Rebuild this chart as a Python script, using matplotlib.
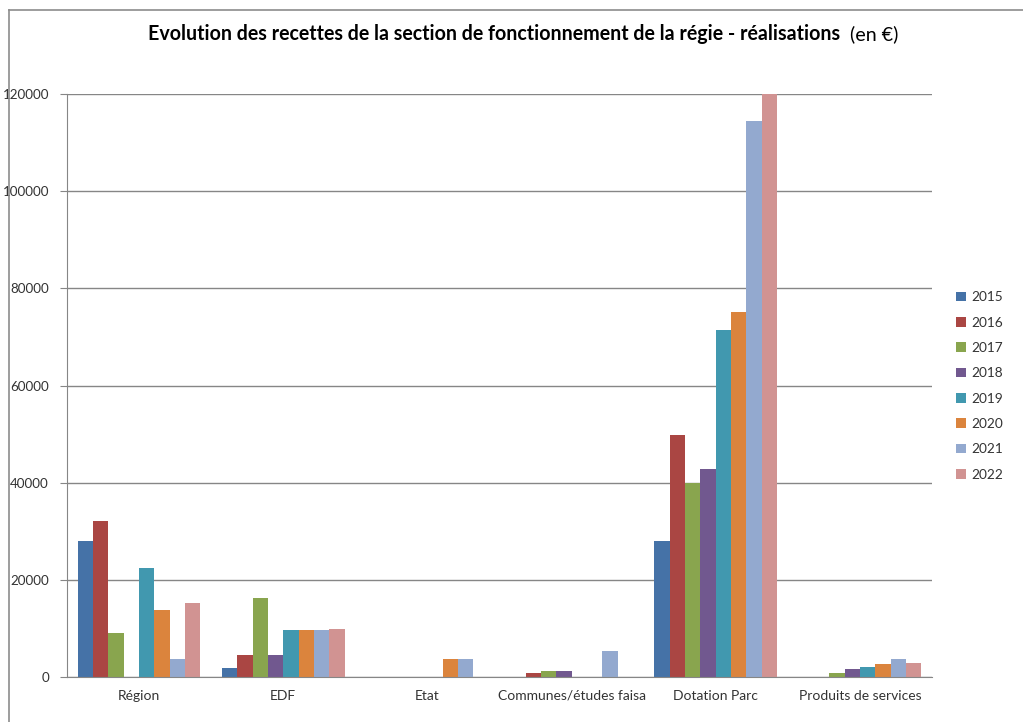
import matplotlib
matplotlib.use("Agg")
import matplotlib.pyplot as plt
import numpy as np
from matplotlib.lines import Line2D

categories = ["Région", "EDF", "Etat", "Communes/études faisa", "Dotation Parc", "Produits de services"]
years = ["2015", "2016", "2017", "2018", "2019", "2020", "2021", "2022"]
values = {
    "2015": [28000, 1900, 0, 0, 28000, 0],
    "2016": [32100, 4500, 0, 800, 49900, 0],
    "2017": [9100, 16300, 0, 1200, 40000, 750],
    "2018": [0, 4600, 0, 1200, 42800, 1600],
    "2019": [22400, 9700, 0, 0, 71500, 2000],
    "2020": [13700, 9700, 3800, 0, 75100, 2600],
    "2021": [3800, 9700, 3800, 5400, 114400, 3700],
    "2022": [15300, 9900, 0, 0, 120000, 2800],
}
colors = ["#4572A7", "#AA4643", "#89A54E", "#71588F", "#4198AF", "#DB843D", "#93A9CF", "#D19392"]
yticks = [0, 20000, 40000, 60000, 80000, 100000, 120000]

plt.rcParams["font.family"] = ["Lato", "DejaVu Sans"]

W, H = 1023, 722
fig = plt.figure(figsize=(W / 100, H / 100), dpi=100)
ax = fig.add_axes([67 / W, 1 - 677 / H, (932 - 67) / W, (677 - 94) / H])

x = np.arange(len(categories))
group = 0.85
bw = group / len(years)
for i, (yr, c) in enumerate(zip(years, colors)):
    offs = -group / 2 + bw * (i + 0.5)
    ax.bar(x + offs, values[yr], width=bw, color=c, label=yr, linewidth=0)

ax.set_xlim(-0.5, len(categories) - 0.5)
ax.set_ylim(0, 120000)
ax.set_yticks(yticks)
ax.set_yticklabels([str(v) for v in yticks], fontsize=9.6, color="#333333")
ax.set_xticks(x)
ax.set_xticklabels(categories, fontsize=10, color="#333333")
ax.tick_params(axis="x", length=0, pad=9)
ax.tick_params(axis="y", length=5, color="#868686", pad=8)
ax.yaxis.grid(True, color="#868686", linewidth=1)
ax.set_axisbelow(True)
for s in ["top", "right"]:
    ax.spines[s].set_visible(False)
ax.spines["left"].set_color("#868686")
ax.spines["bottom"].set_color("#868686")

handles, labels = ax.get_legend_handles_labels()
leg = fig.legend(handles, labels, loc="upper left", bbox_to_anchor=(944 / W, 1 - 279 / H),
                 frameon=False, fontsize=9.8, handlelength=0.7, handleheight=0.7,
                 labelspacing=0.98, handletextpad=0.4)
for t in leg.get_texts():
    t.set_color("#333333")

t1 = fig.text(148 / W, 1 - 34 / H,
              "Evolution des recettes de la section de fonctionnement de la régie - réalisations",
              ha="left", va="center", fontsize=14.1, fontweight="bold", color="black")
fig.canvas.draw()
bb = t1.get_window_extent()
fig.text((bb.x1 + 10) / W, 1 - 34 / H, "(en €)", ha="left", va="center", fontsize=14.1, color="black")

# chart frame
fig.add_artist(Line2D([9 / W, 1], [1 - 10 / H, 1 - 10 / H], color="#8c8c8c", linewidth=1.2))
fig.add_artist(Line2D([9 / W, 9 / W], [0, 1 - 10 / H], color="#8c8c8c", linewidth=1.2))

fig.savefig("out.png", dpi=100)
